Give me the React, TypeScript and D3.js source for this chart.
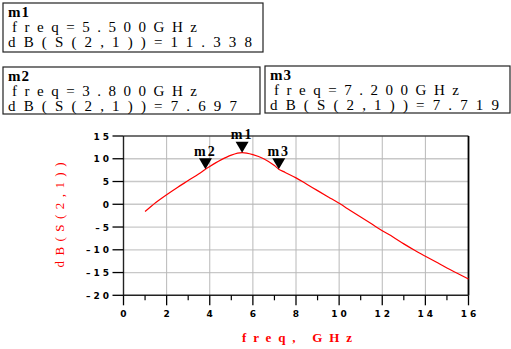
import React from "react";
import * as d3 from "d3";

// trace data
const freqGHz = [1, 1.5, 2, 2.5, 3, 3.5, 3.8, 4, 4.5, 5, 5.5, 6, 6.5, 7, 7.2, 7.5, 8, 8.5, 9, 9.5, 10, 10.5, 11, 11.5, 12, 12.5, 13, 13.5, 14, 14.5, 15, 15.5, 16];
const dbS21 = [-1.6, 0.4, 2.1, 3.7, 5.2, 6.7, 7.697, 8.3, 9.7, 10.8, 11.338, 10.9, 10.0, 8.5, 7.719, 7.0, 5.8, 4.4, 3.0, 1.6, 0.2, -1.3, -2.8, -4.3, -5.8, -7.2, -8.7, -10.1, -11.4, -12.7, -14.0, -15.2, -16.4];

// markers
const markerNames = ["m1", "m2", "m3"];
const markerFreq = [5.5, 3.8, 7.2];
const markerDb = [11.338, 7.697, 7.719];

// axis ticks
const xTicks = [0, 2, 4, 6, 8, 10, 12, 14, 16];
const xMinorTicks = [1, 3, 5, 7, 9, 11, 13, 15];
const yTicks = [15, 10, 5, 0, -5, -10, -15, -20];

const width = 511;
const height = 349;

// readout boxes placement
const boxes = [
  { x: 3, y: 3, w: 260, h: 49 },
  { x: 3, y: 67, w: 257, h: 47 },
  { x: 265, y: 66, w: 245, h: 47 },
];

export default function App() {
  const x = d3.scaleLinear().domain([0, 16]).range([123.5, 468.5]);
  const y = d3.scaleLinear().domain([-20, 15]).range([295.3, 136]);

  const line = d3
    .line<number>()
    .x((_, i) => x(freqGHz[i]))
    .y(d => y(d))
    .curve(d3.curveMonotoneX);

  const tickFont = "'DejaVu Sans', sans-serif";
  const boxFont = "'Liberation Serif', serif";

  return (
    <svg
      width={width}
      height={height}
      viewBox={`0 0 ${width} ${height}`}
      style={{ position: "absolute", left: 0, top: 0, background: "#fff" }}
    >
      {/* readout boxes */}
      {boxes.map((b, i) => {
        const f = markerFreq[i].toFixed(3);
        const v = markerDb[i].toFixed(3);
        const l2 = `freq=${f}GHz`;
        const l3 = `dB(S(2,1))=${v}`;
        return (
          <g key={markerNames[i]} fontFamily={boxFont} fontSize={15} fill="#000">
            <rect x={b.x} y={b.y} width={b.w} height={b.h} fill="#fff" stroke="#222" strokeWidth={1.2} />
            <text x={b.x + 5} y={b.y + 14} fontWeight="bold" letterSpacing={1}>{markerNames[i]}</text>
            <text x={b.x + 9} y={b.y + 29} textLength={l2.length * 15 - 10} lengthAdjust="spacing">{l2}</text>
            <text x={b.x + 5} y={b.y + 44} textLength={l3.length * 15 - 11} lengthAdjust="spacing">{l3}</text>
          </g>
        );
      })}

      {/* grid */}
      <g>
        {yTicks.slice(1, -1).map(t => (
          <line key={"gy" + t} x1={x(0)} x2={x(16)} y1={y(t)} y2={y(t)} stroke="#c8c8c8" strokeWidth={1.3} />
        ))}
        {xTicks.slice(1, -1).map(t => (
          <line key={"gx" + t} x1={x(t)} x2={x(t)} y1={y(15)} y2={y(-20)} stroke="#b8b8b8" strokeWidth={1} />
        ))}
      </g>

      {/* frame */}
      <g stroke="#222" strokeWidth={1.4} fill="none">
        <line x1={x(0)} x2={x(16)} y1={y(15)} y2={y(15)} stroke="#444" />
        <line x1={x(16)} x2={x(16)} y1={y(15)} y2={y(-20)} stroke="#000" strokeWidth={1.8} />
        <line x1={x(0)} x2={x(0)} y1={y(15)} y2={y(-20)} />
        <line x1={x(0)} x2={x(16)} y1={y(-20)} y2={y(-20)} />
      </g>

      {/* y axis */}
      <g fontFamily={tickFont} fontSize={9} fontWeight="bold" fill="#000">
        {yTicks.map(t => (
          <g key={"yt" + t}>
            <line x1={x(0) - 11} x2={x(0)} y1={y(t)} y2={y(t)} stroke="#000" strokeWidth={1.3} />
            <text x={112} y={y(t) + 3.5} textAnchor="end" letterSpacing={3}>
              {t < 0 ? "\u2013" + Math.abs(t) : String(t)}
            </text>
          </g>
        ))}
      </g>

      {/* x axis */}
      <g fontFamily={tickFont} fontSize={9} fontWeight="bold" fill="#000">
        {xTicks.map(t => (
          <g key={"xt" + t}>
            <line x1={x(t)} x2={x(t)} y1={y(-20)} y2={y(-20) + 10} stroke="#000" strokeWidth={1.3} />
            <text x={x(t) + 1.5} y={317} textAnchor="middle" letterSpacing={3}>{t}</text>
          </g>
        ))}
        {xMinorTicks.map(t => (
          <line key={"xm" + t} x1={x(t)} x2={x(t)} y1={y(-20)} y2={y(-20) + 5} stroke="#000" strokeWidth={1.2} />
        ))}
      </g>

      {/* axis titles */}
      <text
        x={297}
        y={342}
        textAnchor="middle"
        fill="#ff0000"
        fontFamily={boxFont}
        fontWeight="bold"
        fontSize={13}
        textLength={110}
        lengthAdjust="spacing"
      >
        freq, GHz
      </text>
      <text
        transform={`translate(64,215) rotate(-90)`}
        textAnchor="middle"
        fill="#ff0000"
        fontFamily={boxFont}
        fontSize={13}
        textLength={105}
        lengthAdjust="spacing"
      >
        dB(S(2,1))
      </text>

      {/* trace */}
      <path d={line(dbS21) ?? ""} fill="none" stroke="#ff0000" strokeWidth={1.2} />

      {/* markers */}
      {markerNames.map((m, i) => {
        const mx = x(markerFreq[i]);
        const my = y(markerDb[i]);
        return (
          <g key={"mk" + m}>
            <path d={`M${mx},${my} L${mx - 6.5},${my - 11} L${mx + 6.5},${my - 11} Z`} fill="#000" />
            <text
              x={mx}
              y={my - 13.5}
              textAnchor="middle"
              fontFamily={boxFont}
              fontWeight="bold"
              fontSize={14}
              letterSpacing={2}
            >
              {m}
            </text>
          </g>
        );
      })}
    </svg>
  );
}
